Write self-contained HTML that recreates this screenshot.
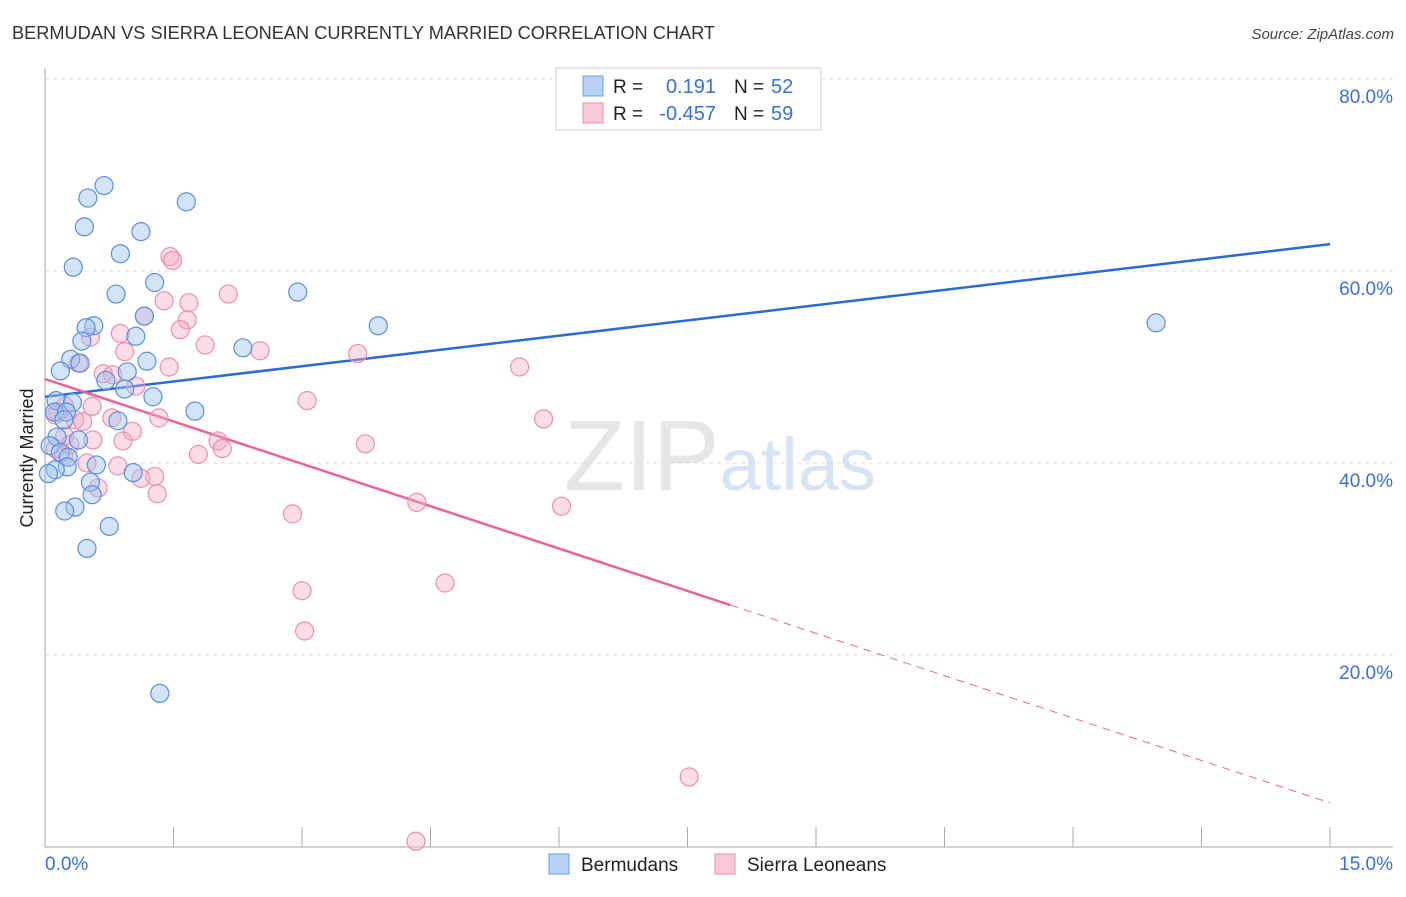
<!DOCTYPE html>
<html><head><meta charset="utf-8"><style>
body{margin:0;background:#fff;font-family:"Liberation Sans",sans-serif;}
svg text{font-family:"Liberation Sans",sans-serif;}
</style></head><body>
<svg id="chart" width="1406" height="892" xmlns="http://www.w3.org/2000/svg">
<text x="12" y="39" font-size="18.2" fill="#333">BERMUDAN VS SIERRA LEONEAN CURRENTLY MARRIED CORRELATION CHART</text>
<text x="1394" y="39" font-size="15" fill="#444" text-anchor="end" font-style="italic">Source: ZipAtlas.com</text>
<text x="720" y="490" font-size="100" fill="#e6e6e6" text-anchor="middle" font-family="Liberation Serif">ZIP<tspan fill="#d6e4f5" font-family="Liberation Sans" font-size="74">atlas</tspan></text>
<g id="grid"></g>
<g id="axes"></g>
<g id="trend"></g>
<g id="points"></g>
<text transform="translate(33,458) rotate(-90)" font-size="18" fill="#222" text-anchor="middle">Currently Married</text>
<g>
<rect x="556" y="68" width="265" height="62" fill="#fff" stroke="#ccc"/>
<rect x="583" y="76" width="20" height="20" fill="#b8d2f5" stroke="#6a9ee0"/>
<rect x="583" y="103" width="20" height="20" fill="#f9c9d8" stroke="#e890ad"/>
<text x="613" y="93" font-size="19" fill="#222">R =</text>
<text x="716" y="93" font-size="20" fill="#3a72d0" text-anchor="end">0.191</text>
<text x="734" y="93" font-size="19" fill="#222">N =</text>
<text x="771" y="93" font-size="20" fill="#3a72d0">52</text>
<text x="613" y="120" font-size="19" fill="#222">R =</text>
<text x="716" y="120" font-size="20" fill="#3a72d0" text-anchor="end">-0.457</text>
<text x="734" y="120" font-size="19" fill="#222">N =</text>
<text x="771" y="120" font-size="20" fill="#3a72d0">59</text>
</g>
<g>
<rect x="549" y="854" width="20" height="20" fill="#b8d2f5" stroke="#6a9ee0"/>
<text x="581" y="871" font-size="19" fill="#222">Bermudans</text>
<rect x="715" y="854" width="20" height="20" fill="#f9c9d8" stroke="#e890ad"/>
<text x="747" y="871" font-size="19" fill="#222">Sierra Leoneans</text>
</g>
</svg>
<script>
const yTicks=[20,40,60,80];
const yTickLabels=["20.0%","40.0%","60.0%","80.0%"];
const xTicks=[0,1.5,3,4.5,6,7.5,9,10.5,12,13.5,15];
const blueX=[0.69,0.50,1.65,0.46,1.12,0.88,0.33,1.28,0.83,2.95,3.89,12.97,0.57,0.48,1.16,0.43,1.06,0.30,0.41,1.19,2.31,0.18,0.96,0.71,0.93,1.26,1.75,0.13,0.32,0.11,0.25,0.22,0.85,0.39,0.14,0.06,0.18,0.27,0.60,0.26,0.12,0.04,1.03,0.53,0.55,0.35,0.23,0.75,0.49,1.34];
const blueY=[68.9,67.6,67.2,64.6,64.1,61.8,60.4,58.8,57.6,57.8,54.3,54.6,54.3,54.1,55.3,52.7,53.2,50.8,50.4,50.6,52.0,49.6,49.5,48.6,47.7,46.9,45.4,46.5,46.3,45.3,45.3,44.5,44.4,42.4,42.7,41.8,41.1,40.6,39.8,39.6,39.3,38.9,39.0,38.0,36.7,35.4,35.0,33.4,31.1,16.0];
const pinkX=[1.46,1.49,2.14,1.39,1.68,1.16,1.66,1.58,0.88,0.53,1.87,2.51,0.93,0.39,3.65,5.54,1.45,0.68,0.79,1.06,3.06,0.23,0.55,0.15,0.35,0.44,0.78,1.33,5.82,1.02,2.02,0.23,0.56,0.91,3.74,2.07,1.79,0.12,0.22,0.49,0.85,1.28,1.12,4.34,6.03,0.62,1.31,2.89,4.67,3.00,3.03,7.52,4.33,0.12,0.29];
const pinkY=[61.5,61.1,57.6,56.9,56.7,55.3,54.9,53.9,53.5,53.1,52.3,51.7,51.6,50.4,51.4,50.0,50.0,49.3,49.2,48.0,46.5,45.9,45.9,45.3,44.5,44.3,44.7,44.7,44.6,43.3,42.3,42.8,42.4,42.3,42.0,41.5,40.9,41.5,40.8,40.0,39.7,38.6,38.4,35.9,35.5,37.4,36.8,34.7,27.5,26.7,22.5,7.3,0.6,45.0,41.9];
const blueTrend=[46.9,62.8];
const pinkTrend=[48.75,4.6];
const pinkSolidEnd=8.0;
const NS="http://www.w3.org/2000/svg";
const X=v=>45+v*(1285/15);
const Y=v=>847-v*9.6;
function mk(tag,attrs,parent){const e=document.createElementNS(NS,tag);for(const k in attrs)e.setAttribute(k,attrs[k]);document.getElementById(parent).appendChild(e);return e;}
yTicks.forEach((t,i)=>{
 const l=mk('line',{x1:45,x2:1393,y1:Y(t),y2:Y(t),stroke:'#ddd','stroke-dasharray':'4,4'},'grid');
 
 
 const tx=mk('text',{x:1393,y:Y(t)+24,'font-size':19,fill:'#3a72d0','text-anchor':'end'},'grid');tx.textContent=yTickLabels[i];
 
 
});
let a=mk('line',{x1:45,x2:45,y1:68,y2:847,stroke:'#aaa'},'axes');


a=mk('line',{x1:45,x2:1393,y1:847,y2:847,stroke:'#aaa'},'axes');


xTicks.forEach(t=>{if(t===0)return;const l=mk('line',{x1:X(t),x2:X(t),y1:827,y2:847,stroke:'#aaa'},'axes');
 
 });
let t1=mk('text',{x:45,y:870,'font-size':19,fill:'#3a72d0'},'axes');t1.textContent='0.0%';


t1=mk('text',{x:1393,y:870,'font-size':19,fill:'#3a72d0','text-anchor':'end'},'axes');t1.textContent='15.0%';


function pt(x,y,fill,stroke,name){const c=mk('circle',{cx:X(x),cy:Y(y),r:9,fill:fill,stroke:stroke,'stroke-width':1.2},'points');
 
 }
pinkX.forEach((x,i)=>pt(x,pinkY[i],'rgba(246,170,195,0.4)','#e890ad','sierra-leonean-point'));
blueX.forEach((x,i)=>pt(x,blueY[i],'rgba(160,195,240,0.45)','#5b8fdc','bermudan-point'));
let tl=mk('line',{x1:X(0),y1:Y(blueTrend[0]),x2:X(15),y2:Y(blueTrend[1]),stroke:'#2a6bd4','stroke-width':2.5},'trend');


const pAt=x=>pinkTrend[0]+(pinkTrend[1]-pinkTrend[0])*x/15;
tl=mk('line',{x1:X(0),y1:Y(pinkTrend[0]),x2:X(pinkSolidEnd),y2:Y(pAt(pinkSolidEnd)),stroke:'#e8649a','stroke-width':2.5},'trend');


tl=mk('line',{x1:X(pinkSolidEnd),y1:Y(pAt(pinkSolidEnd)),x2:X(15),y2:Y(pinkTrend[1]),stroke:'#e8649a','stroke-width':1,'stroke-dasharray':'8,6'},'trend');


</script>
</body></html>
